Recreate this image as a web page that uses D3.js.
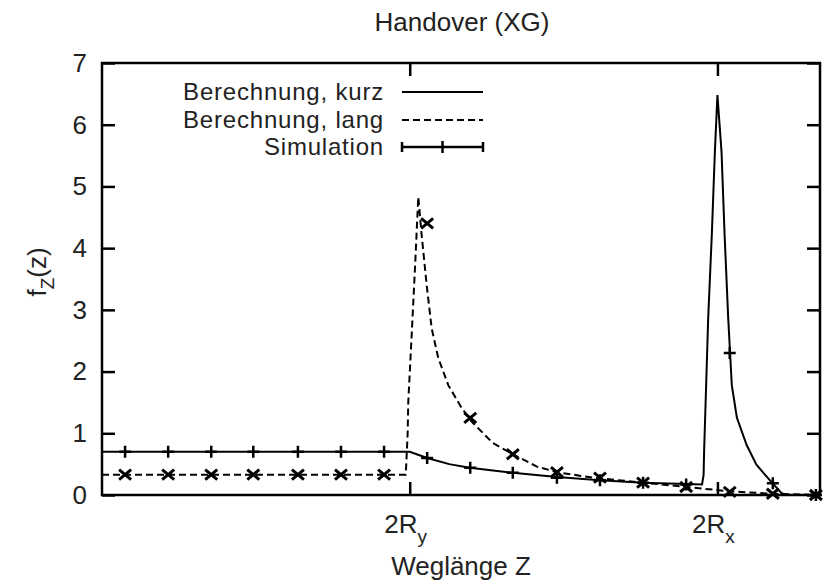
<!DOCTYPE html>
<html>
<head>
<meta charset="utf-8">
<script src="https://cdn.jsdelivr.net/npm/d3@7"></script>
<style>
  body { margin: 0; background: #fff; }
  text { font-family: "Liberation Sans", Arial, Helvetica, sans-serif; fill: #222; }
</style>
</head>
<body>
<svg width="825" height="584"></svg>
<script>
// calculation, short paths (x in path units, y = f_Z(z))
const kurzX = [0, 60.0, 63.4, 67.7, 71.7, 80.1, 88.7, 97.1, 105.5, 113.9, 117.0, 117.3, 117.4, 117.8, 118.2, 118.9, 119.5, 120.0, 120.8, 121.4, 122.1, 122.8, 123.8, 125.7, 127.6, 130.2, 132.5, 133.5, 140];
const kurzY = [0.70, 0.70, 0.60, 0.50, 0.44, 0.36, 0.29, 0.24, 0.20, 0.18, 0.17, 0.32, 0.70, 1.78, 2.87, 4.21, 5.56, 6.48, 5.56, 4.21, 2.87, 1.78, 1.25, 0.81, 0.49, 0.24, 0.03, 0, 0];

// calculation, long paths
const langX = [0, 59.23, 59.60, 59.72, 60.38, 61.03, 61.67, 62.33, 63.31, 64.28, 65.57, 67.52, 70.13, 72.08, 76.23, 80.13, 84.81, 88.71, 95.73, 105.5, 113.9, 122.4, 130.8, 140];
const langY = [0.33, 0.33, 1.0, 1.51, 2.59, 3.68, 4.83, 4.21, 3.40, 2.70, 2.22, 1.78, 1.41, 1.19, 0.84, 0.66, 0.46, 0.37, 0.28, 0.20, 0.13, 0.06, 0.02, 0];

// simulation
const simX = [4.5, 12.9, 21.3, 29.5, 38.2, 46.6, 55.0, 63.4, 71.8, 80.1, 88.7, 97.1, 105.5, 113.9, 122.4, 130.8, 139.2];
const simKurz = [0.70, 0.70, 0.70, 0.70, 0.70, 0.70, 0.70, 0.60, 0.44, 0.36, 0.28, 0.24, 0.20, 0.17, 2.30, 0.19, 0.00];
const simLang = [0.33, 0.33, 0.33, 0.33, 0.33, 0.33, 0.33, 4.40, 1.25, 0.66, 0.37, 0.28, 0.20, 0.13, 0.05, 0.02, 0.00];

const yTicks = [0, 1, 2, 3, 4, 5, 6, 7];
const xTicks = [60, 120];
const xTickLabels = [['2R', 'y'], ['2R', 'x']];
const legendNames = ['Berechnung, kurz', 'Berechnung, lang', 'Simulation'];

const padL = 102, padR = 820, padT = 63, padB = 495;
const fs = 26;

const svg = d3.select('svg');

const x = d3.scaleLinear().domain([0, 140]).range([padL, padR]);
const y = d3.scaleLinear().domain([0, 7]).range([padB, padT]);

// axes (ticks inward, mirrored)
const yAxis = svg.append('g').attr('transform', `translate(${padL},0)`)
    .call(d3.axisLeft(y).tickValues(yTicks).tickFormat(d3.format('d')).tickSize(-13).tickPadding(15));
svg.append('g').attr('transform', `translate(${padR},0)`)
    .call(d3.axisRight(y).tickValues(yTicks).tickSize(-13).tickFormat(''));
svg.append('g').attr('transform', `translate(0,${padB})`)
    .call(d3.axisBottom(x).tickValues(xTicks).tickSize(-13).tickFormat(''));
svg.append('g').attr('transform', `translate(0,${padT})`)
    .call(d3.axisTop(x).tickValues(xTicks).tickSize(-13).tickFormat(''));

svg.selectAll('.domain').remove();
svg.selectAll('.tick line').attr('stroke', '#000').attr('stroke-width', 2.5);
yAxis.selectAll('text').attr('font-size', fs).attr('fill', '#333')
    .style('font-family', '"Liberation Sans", Arial, sans-serif');

// x tick labels with subscripts
xTicks.forEach((v, i) => {
  const t = svg.append('text')
      .attr('x', x(v) - 4).attr('y', 533)
      .attr('text-anchor', 'middle').attr('font-size', fs);
  t.append('tspan').text(xTickLabels[i][0]);
  t.append('tspan').attr('dy', 10).attr('font-size', 19).text(xTickLabels[i][1]);
});

// frame
svg.append('rect')
    .attr('x', padL).attr('y', padT)
    .attr('width', padR - padL).attr('height', padB - padT)
    .attr('fill', 'none').attr('stroke', '#000').attr('stroke-width', 2.5);

// curves
const line = d3.line().x(d => x(d[0])).y(d => y(d[1]));

svg.append('path')
    .datum(kurzX.map((v, i) => [v, kurzY[i]]))
    .attr('d', line)
    .attr('fill', 'none').attr('stroke', '#000').attr('stroke-width', 2);

svg.append('path')
    .datum(langX.map((v, i) => [v, langY[i]]))
    .attr('d', line)
    .attr('fill', 'none').attr('stroke', '#000').attr('stroke-width', 2)
    .attr('stroke-dasharray', '7,4');

// simulation markers
const m = 6;
svg.append('g').selectAll('path').data(simX.map((v, i) => [v, simKurz[i]])).enter()
    .append('path')
    .attr('d', d => `M${x(d[0]) - m},${y(d[1])}H${x(d[0]) + m}M${x(d[0])},${y(d[1]) - m}V${y(d[1]) + m}`)
    .attr('stroke', '#000').attr('stroke-width', 2.5).attr('fill', 'none');

svg.append('g').selectAll('path').data(simX.map((v, i) => [v, simLang[i]])).enter()
    .append('path')
    .attr('d', d => `M${x(d[0]) - m},${y(d[1]) - m + 1}L${x(d[0]) + m},${y(d[1]) + m - 1}M${x(d[0]) - m},${y(d[1]) + m - 1}L${x(d[0]) + m},${y(d[1]) - m + 1}`)
    .attr('stroke', '#000').attr('stroke-width', 3).attr('fill', 'none');

// legend
const legY = [92, 120, 147];
const lx0 = 402, lx1 = 483;
legendNames.forEach((name, i) => {
  svg.append('text')
      .attr('x', 384).attr('y', legY[i] + 8)
      .attr('text-anchor', 'end').attr('font-size', 24)
      .attr('letter-spacing', 0.8)
      .text(name);
});
svg.append('line').attr('x1', lx0).attr('x2', lx1).attr('y1', legY[0]).attr('y2', legY[0])
    .attr('stroke', '#000').attr('stroke-width', 2);
svg.append('line').attr('x1', lx0).attr('x2', lx1).attr('y1', legY[1]).attr('y2', legY[1])
    .attr('stroke', '#000').attr('stroke-width', 2).attr('stroke-dasharray', '7,4');
svg.append('path')
    .attr('d', `M${lx0},${legY[2]}H${lx1}M${lx0},${legY[2] - 5}V${legY[2] + 5}M${lx1},${legY[2] - 5}V${legY[2] + 5}M${(lx0 + lx1) / 2},${legY[2] - 6}V${legY[2] + 6}`)
    .attr('stroke', '#000').attr('stroke-width', 2.5).attr('fill', 'none');

// titles
svg.append('text')
    .attr('x', 462).attr('y', 31)
    .attr('text-anchor', 'middle').attr('font-size', fs)
    .text('Handover (XG)');

svg.append('text')
    .attr('x', 461).attr('y', 575)
    .attr('text-anchor', 'middle').attr('font-size', fs)
    .text('Weglänge Z');

const yl = svg.append('text')
    .attr('transform', 'translate(46,272) rotate(-90)')
    .attr('text-anchor', 'middle').attr('font-size', fs);
yl.append('tspan').text('f');
yl.append('tspan').attr('dy', 8).attr('font-size', 19).text('Z');
yl.append('tspan').attr('dy', -8).text('(z)');
</script>
</body>
</html>
